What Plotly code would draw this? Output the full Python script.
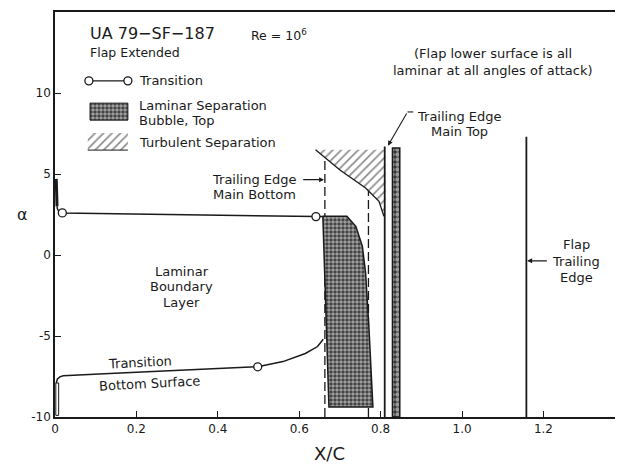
import plotly.graph_objects as go

# ---------------- data ----------------
x_ticks = [0, 0.2, 0.4, 0.6, 0.8, 1.0, 1.2]
x_tick_text = ["0", "0.2", "0.4", "0.6", "0.8", "1.0", "1.2"]
y_ticks = [-10, -5, 0, 5, 10]
y_tick_text = ["-10", "-5", "0", "5", "10"]

# top-surface transition line
top_x = [0.005, 0.006, 0.009, 0.018, 0.641, 0.660]
top_a = [3.0, 2.85, 2.7, 2.6, 2.37, 2.38]
top_circ_x = [0.018, 0.641]
top_circ_a = [2.6, 2.37]
le_top_x = [0.003, 0.005]
le_top_a = [4.7, 3.0]

# bottom-surface transition line
bot_x = [0.003, 0.006, 0.012, 0.02, 0.16, 0.30, 0.498, 0.56, 0.615, 0.645, 0.659]
bot_a = [-7.9, -7.65, -7.52, -7.46, -7.29, -7.13, -6.9, -6.58, -6.08, -5.65, -5.2]
bot_circ_x = [0.498]
bot_circ_a = [-6.9]

# small leading-edge bubble on the bottom surface
le_bub_x = [0.002, 0.009, 0.009, 0.002, 0.002]
le_bub_a = [-9.9, -9.9, -7.9, -7.9, -9.9]

# laminar separation bubble, top
bub_x = [0.658, 0.717, 0.739, 0.755, 0.763, 0.771, 0.781, 0.673, 0.658]
bub_a = [2.39, 2.39, 1.77, 0.54, -1.1, -4.38, -9.38, -9.38, 2.39]

# turbulent separation
turb_x = [0.640, 0.700, 0.763, 0.796, 0.808, 0.812, 0.812, 0.640]
turb_a = [6.49, 5.25, 4.13, 3.31, 2.39, 2.39, 6.49, 6.49]

# vertical reference lines
te_bottom_x, te_bottom_a = [0.663, 0.663], [-10, 6.05]
dash2_x, dash2_a = [0.770, 0.770], [-10, 5.7]
te_top_x, te_top_a = [0.810, 0.810], [-10, 6.7]
col_x = [0.829, 0.847, 0.847, 0.829, 0.829]
col_a = [-10, -10, 6.6, 6.6, -10]
flap_te_x, flap_te_a = [1.158, 1.158], [-10, 7.3]

INK = "#1a1a1a"
FONT = "DejaVu Sans"

fig = go.Figure()

def line(x, y, w=1.5, dash=None, **kw):
    fig.add_trace(go.Scatter(x=x, y=y, mode="lines",
                             line=dict(color=INK, width=w, dash=dash),
                             hoverinfo="skip", **kw))

HATCH = dict(shape="/", fgcolor=INK, bgcolor="white", size=6, solidity=0.28)
CROSS = dict(shape=".", fgcolor="white", bgcolor="#383838", size=4, solidity=0.62)

# dashed trailing edge lines
line(te_bottom_x, te_bottom_a, 1.3, "9px,4px")
line(dash2_x, dash2_a, 1.3, "9px,4px")

# turbulent separation hatch
fig.add_trace(go.Scatter(x=turb_x, y=turb_a, mode="lines", fill="toself",
                         line=dict(color="rgba(0,0,0,0)", width=0),
                         fillcolor="rgba(0,0,0,0)", fillpattern=HATCH,
                         hoverinfo="skip"))
line(turb_x[:5], turb_a[:5], 1.3)

# laminar separation bubble
fig.add_trace(go.Scatter(x=bub_x, y=bub_a, mode="lines", fill="toself",
                         line=dict(color=INK, width=1.5), fillpattern=CROSS,
                         hoverinfo="skip"))

# main trailing edge top & column of transition circles
line(te_top_x, te_top_a, 1.8)
fig.add_trace(go.Scatter(x=col_x, y=col_a, mode="lines", fill="toself",
                         line=dict(color=INK, width=1.5),
                         fillpattern=dict(shape=".", fgcolor="white", bgcolor="#333333",
                                          size=5, solidity=0.6),
                         hoverinfo="skip"))
line(flap_te_x, flap_te_a, 1.8)

# transition lines
line(le_top_x, le_top_a, 3)
line(top_x, top_a, 1.5)
line(bot_x, bot_a, 1.5)
line(le_bub_x, le_bub_a, 1.0)
fig.add_trace(go.Scatter(x=top_circ_x + bot_circ_x, y=top_circ_a + bot_circ_a,
                         mode="markers",
                         marker=dict(symbol="circle", size=8, color="white",
                                     line=dict(color=INK, width=1.3)),
                         hoverinfo="skip"))

# ---------------- legend swatches (paper-fraction overlay axes) ----------------
leg_line_x = [0.060, 0.129]
leg_line_y = [0.830, 0.830]
leg_cross_x = [0.062, 0.129, 0.129, 0.062, 0.062]
leg_cross_y = [0.733, 0.733, 0.775, 0.775, 0.733]
leg_hatch_x = [0.058, 0.129, 0.129, 0.058, 0.058]
leg_hatch_y = [0.659, 0.659, 0.701, 0.701, 0.659]

fig.add_trace(go.Scatter(x=leg_line_x, y=leg_line_y, xaxis="x2", yaxis="y2",
                         mode="lines+markers", line=dict(color=INK, width=1.3),
                         marker=dict(size=8, color="white", line=dict(color=INK, width=1.3)),
                         hoverinfo="skip"))
fig.add_trace(go.Scatter(x=leg_cross_x, y=leg_cross_y, xaxis="x2", yaxis="y2",
                         mode="lines", fill="toself", line=dict(color=INK, width=1),
                         fillpattern=CROSS, hoverinfo="skip"))
fig.add_trace(go.Scatter(x=leg_hatch_x, y=leg_hatch_y, xaxis="x2", yaxis="y2",
                         mode="lines", fill="toself", line=dict(color="rgba(0,0,0,0)", width=0),
                         fillcolor="rgba(0,0,0,0)", fillpattern=HATCH, hoverinfo="skip"))
fig.add_trace(go.Scatter(x=[0.058, 0.129], y=[0.659, 0.659], xaxis="x2", yaxis="y2",
                         mode="lines", line=dict(color=INK, width=1), hoverinfo="skip"))

# ---------------- annotations ----------------
def txt(x, y, s, size=13, xanchor="center", ref="data", angle=0):
    d = dict(x=x, y=y, text=s, showarrow=False, xanchor=xanchor, yanchor="middle",
             font=dict(family=FONT, size=size, color=INK), textangle=angle)
    if ref == "paper":
        d.update(xref="paper", yref="paper")
    fig.add_annotation(**d)

txt(0.058, 0.948, "UA 79\u2212SF\u2212187", 16, "left", "paper")
txt(0.058, 0.901, "Flap Extended", 12.5, "left", "paper")
txt(0.344, 0.943, "Re = 10<sup>6</sup>", 12.5, "left", "paper")
txt(0.146, 0.830, "Transition", 13, "left", "paper")
txt(0.146, 0.768, "Laminar Separation", 13, "left", "paper")
txt(0.146, 0.733, "Bubble, Top", 13, "left", "paper")
txt(0.146, 0.677, "Turbulent Separation", 13, "left", "paper")

txt(1.077, 12.46, "(Flap lower surface is all", 13)
txt(1.077, 11.42, "laminar at all angles of attack)", 13)
txt(0.994, 8.52, "Trailing Edge", 13)
txt(0.994, 7.60, "Main Top", 13)
txt(0.600, 4.65, "Trailing Edge", 13, "right")
txt(0.598, 3.72, "Main Bottom", 13, "right")
txt(0.311, -1.02, "Laminar", 13)
txt(0.311, -1.95, "Boundary", 13)
txt(0.311, -2.92, "Layer", 13)
txt(0.208, -6.62, "Transition", 13, angle=-3)
txt(0.233, -7.92, "Bottom Surface", 13, angle=-3)
txt(1.28, 0.65, "Flap", 13)
txt(1.28, -0.40, "Trailing", 13)
txt(1.28, -1.40, "Edge", 13)

def arrow(x0, y0, x1, y1):
    fig.add_annotation(x=x1, y=y1, ax=x0, ay=y0, xref="x", yref="y", axref="x", ayref="y",
                       text="", showarrow=True, arrowhead=2, arrowsize=0.9,
                       arrowwidth=1.1, arrowcolor=INK, standoff=0, startstandoff=0)

arrow(0.606, 4.65, 0.661, 4.65)
arrow(0.866, 8.83, 0.818, 6.75)
arrow(1.212, -0.36, 1.160, -0.36)
fig.add_shape(type="line", x0=0.866, y0=8.83, x1=0.880, y1=8.83,
              line=dict(color=INK, width=1.1))

# axis titles
txt(0.486, -0.089, "X/C", 18, ref="paper")
txt(-0.058, 0.50, "\u03b1", 16, ref="paper")

axis_common = dict(showline=True, linecolor=INK, linewidth=1.5, mirror=True,
                   showgrid=False, zeroline=False, ticks="inside", ticklen=6,
                   tickcolor=INK, tickwidth=1.3,
                   tickfont=dict(family=FONT, size=12, color=INK))

# the page body has an 8px default margin, so the figure is sized to fit inside it
fig.update_layout(
    width=614, height=459,
    margin=dict(l=47, r=0, t=4, b=50),
    plot_bgcolor="white", paper_bgcolor="white",
    showlegend=False,
    font=dict(family=FONT, size=13, color=INK),
    xaxis=dict(range=[0, 1.388], tickvals=x_ticks, ticktext=x_tick_text, **axis_common),
    yaxis=dict(range=[-10, 15], tickvals=y_ticks, ticktext=y_tick_text, **axis_common),
    xaxis2=dict(overlaying="x", range=[0, 1], visible=False),
    yaxis2=dict(overlaying="y", range=[0, 1], visible=False),
)

fig.write_html("out.html")
